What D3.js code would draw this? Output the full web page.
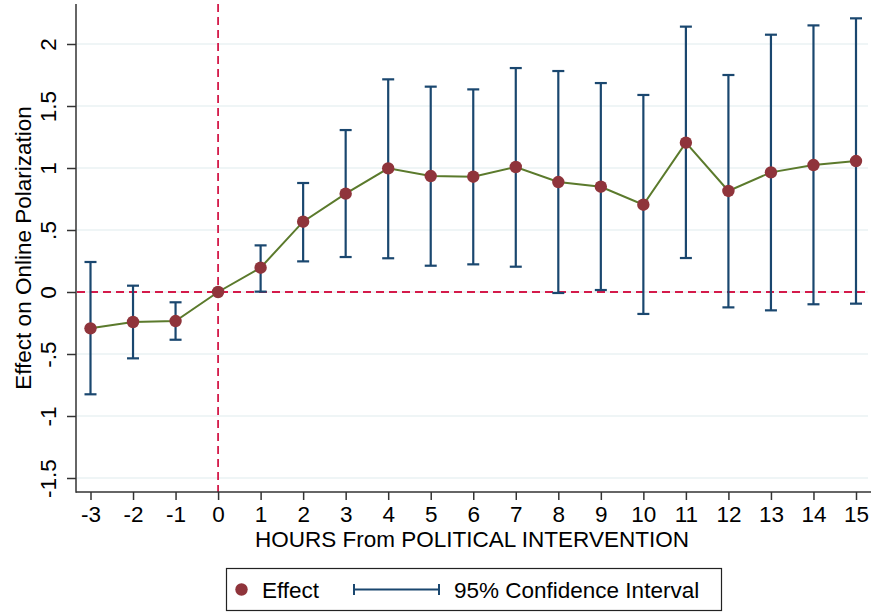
<!DOCTYPE html>
<html>
<head>
<meta charset="utf-8">
<script src="https://cdn.jsdelivr.net/npm/d3@7"></script>
<style>
  html, body { margin: 0; padding: 0; background: #fff; }
  svg { display: block; font-family: "Liberation Sans", Arial, sans-serif; }
</style>
</head>
<body>
<svg id="chart" width="873" height="613"></svg>
<script>
// Event-study estimates by hour relative to the political intervention
const hours    = [-3, -2, -1, 0, 1, 2, 3, 4, 5, 6, 7, 8, 9, 10, 11, 12, 13, 14, 15];
const effect   = [-0.293, -0.242, -0.234, 0, 0.196, 0.567, 0.793, 0.997, 0.935, 0.930, 1.008, 0.887, 0.849, 0.704, 1.204, 0.815, 0.965, 1.024, 1.056];
const ciLow    = [-0.825, -0.535, -0.385, null, 0.003, 0.247, 0.282, 0.272, 0.212, 0.223, 0.204, -0.008, 0.016, -0.177, 0.274, -0.124, -0.148, -0.099, -0.094];
const ciHigh   = [0.242, 0.051, -0.083, null, 0.376, 0.879, 1.306, 1.715, 1.656, 1.634, 1.806, 1.782, 1.685, 1.589, 2.140, 1.750, 2.075, 2.150, 2.207];
const yTicks   = [-1.5, -1, -0.5, 0, 0.5, 1, 1.5, 2];
const yTickLabels = ["-1.5", "-1", "-.5", "0", ".5", "1", "1.5", "2"];
const xTicks   = hours;
const xTickLabels = hours.map(h => String(h));

const FONT = "22.5px";
const svg = d3.select("#chart");

const plot = { left: 76, right: 871, top: 4, bottom: 492 };

const x = d3.scaleLinear().domain([-3, 15]).range([90.5, 856]);
const y = d3.scaleLinear().domain([-1.5, 2]).range([478, 44]);

const colors = {
  grid: "#eaf2f3",
  ref: "#d41a4a",
  line: "#5b7a2c",
  marker: "#8f343b",
  ci: "#1a476f",
  axis: "#333"
};

// Horizontal grid lines
svg.append("g")
  .selectAll("line")
  .data(yTicks)
  .join("line")
  .attr("x1", plot.left + 1).attr("x2", 868)
  .attr("y1", d => y(d)).attr("y2", d => y(d))
  .attr("stroke", colors.grid)
  .attr("stroke-width", 1.6);

// Reference lines at zero
svg.append("line")
  .attr("x1", plot.left + 1).attr("x2", 868)
  .attr("y1", y(0)).attr("y2", y(0))
  .attr("stroke", colors.ref).attr("stroke-width", 1.8)
  .attr("stroke-dasharray", "8,5");
svg.append("line")
  .attr("x1", x(0)).attr("x2", x(0))
  .attr("y1", plot.top).attr("y2", plot.bottom)
  .attr("stroke", colors.ref).attr("stroke-width", 1.8)
  .attr("stroke-dasharray", "8,5");

// Confidence intervals
const ciData = hours.map((h, i) => ({ h, lo: ciLow[i], hi: ciHigh[i] })).filter(d => d.lo !== null);
const ciG = svg.append("g").attr("stroke", colors.ci).attr("stroke-width", 2.2);
ciG.selectAll("line.stem").data(ciData).join("line").attr("class", "stem")
  .attr("x1", d => x(d.h)).attr("x2", d => x(d.h))
  .attr("y1", d => y(d.lo)).attr("y2", d => y(d.hi));
ciG.selectAll("line.capHi").data(ciData).join("line").attr("class", "capHi")
  .attr("x1", d => x(d.h) - 6).attr("x2", d => x(d.h) + 6)
  .attr("y1", d => y(d.hi)).attr("y2", d => y(d.hi));
ciG.selectAll("line.capLo").data(ciData).join("line").attr("class", "capLo")
  .attr("x1", d => x(d.h) - 6).attr("x2", d => x(d.h) + 6)
  .attr("y1", d => y(d.lo)).attr("y2", d => y(d.lo));

// Effect line and markers
const pts = hours.map((h, i) => ({ h, v: effect[i] }));
svg.append("path")
  .datum(pts)
  .attr("fill", "none")
  .attr("stroke", colors.line)
  .attr("stroke-width", 2)
  .attr("d", d3.line().x(d => x(d.h)).y(d => y(d.v)));
svg.append("g")
  .selectAll("circle")
  .data(pts)
  .join("circle")
  .attr("cx", d => x(d.h)).attr("cy", d => y(d.v))
  .attr("r", 6.2)
  .attr("fill", colors.marker);

// Y axis
const yAxis = d3.axisLeft(y).tickValues(yTicks).tickFormat((d, i) => yTickLabels[i]).tickSize(9).tickPadding(0);
const yg = svg.append("g").attr("transform", `translate(${plot.left},0)`).call(yAxis);
yg.select(".domain").remove();
yg.selectAll(".tick line").attr("stroke", colors.axis).attr("stroke-width", 1.5);
yg.selectAll(".tick text")
  .attr("x", null)
  .attr("text-anchor", "middle")
  .attr("transform", `translate(-28,0) rotate(-90)`)
  .attr("dy", "0.35em")
  .attr("fill", "#000")
  .style("font-size", FONT);
svg.append("line")
  .attr("x1", plot.left).attr("x2", plot.left)
  .attr("y1", plot.top).attr("y2", plot.bottom + 0.7)
  .attr("stroke", colors.axis).attr("stroke-width", 1.5);

// X axis
const xAxis = d3.axisBottom(x).tickValues(xTicks).tickFormat((d, i) => xTickLabels[i]).tickSize(8).tickPadding(6);
const xg = svg.append("g").attr("transform", `translate(0,${plot.bottom})`).call(xAxis);
xg.select(".domain").remove();
xg.selectAll(".tick line").attr("stroke", colors.axis).attr("stroke-width", 1.5);
xg.selectAll(".tick text").attr("fill", "#000").style("font-size", FONT);
svg.append("line")
  .attr("x1", plot.left).attr("x2", plot.right)
  .attr("y1", plot.bottom).attr("y2", plot.bottom)
  .attr("stroke", colors.axis).attr("stroke-width", 1.5);

// Axis titles
svg.append("text")
  .attr("x", 472).attr("y", 547)
  .attr("text-anchor", "middle")
  .style("font-size", FONT)
  .text("HOURS From POLITICAL INTERVENTION");
svg.append("text")
  .attr("transform", `translate(31,248) rotate(-90)`)
  .attr("text-anchor", "middle")
  .style("font-size", FONT)
  .text("Effect on Online Polarization");

// Legend
const lg = svg.append("g");
lg.append("rect")
  .attr("x", 226.5).attr("y", 568.5).attr("width", 495).attr("height", 42)
  .attr("fill", "#fff").attr("stroke", "#222").attr("stroke-width", 1.2);
lg.append("circle").attr("cx", 241.5).attr("cy", 589.5).attr("r", 6.2).attr("fill", colors.marker);
lg.append("text").attr("x", 262).attr("y", 597.5).style("font-size", FONT).text("Effect");
lg.append("line").attr("x1", 354).attr("x2", 439).attr("y1", 589.5).attr("y2", 589.5)
  .attr("stroke", colors.ci).attr("stroke-width", 2);
[354, 439].forEach(cx => lg.append("line").attr("x1", cx).attr("x2", cx)
  .attr("y1", 584).attr("y2", 595).attr("stroke", colors.ci).attr("stroke-width", 2));
lg.append("text").attr("x", 454).attr("y", 597.5).style("font-size", FONT).text("95% Confidence Interval");
</script>
</body>
</html>
